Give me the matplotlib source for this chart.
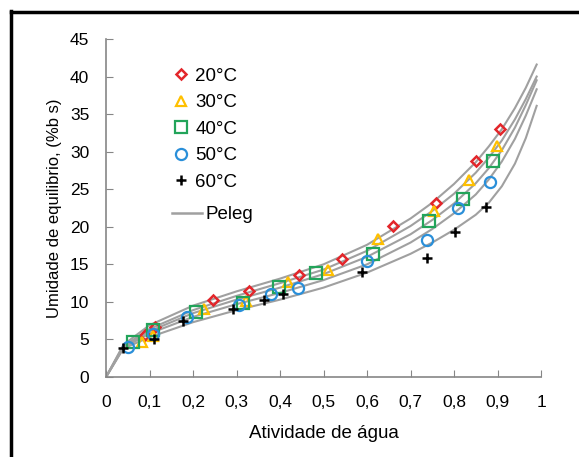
import matplotlib
matplotlib.use("Agg")
import matplotlib.pyplot as plt
from matplotlib.lines import Line2D

plt.rcParams['font.family'] = ['Liberation Sans', 'DejaVu Sans']

# experimental points (aw, equilibrium moisture)
aw_20 = [0.090, 0.113, 0.245, 0.329, 0.444, 0.543, 0.659, 0.759, 0.850, 0.906]
m_20 = [5.6, 6.6, 10.3, 11.4, 13.6, 15.7, 20.1, 23.1, 28.8, 33.0]
aw_30 = [0.082, 0.109, 0.225, 0.322, 0.419, 0.511, 0.626, 0.755, 0.835, 0.898]
m_30 = [4.7, 5.5, 9.1, 10.1, 12.7, 14.3, 18.4, 22.1, 26.2, 30.8]
aw_40 = [0.063, 0.109, 0.207, 0.314, 0.398, 0.483, 0.613, 0.742, 0.820, 0.890]
m_40 = [4.6, 6.3, 8.7, 9.9, 12.0, 13.8, 16.4, 20.8, 23.7, 28.7]
aw_50 = [0.050, 0.107, 0.187, 0.306, 0.379, 0.442, 0.599, 0.739, 0.810, 0.883]
m_50 = [4.0, 5.7, 8.0, 9.6, 11.1, 11.9, 15.4, 18.3, 22.5, 26.0]
aw_60 = [0.038, 0.110, 0.176, 0.291, 0.364, 0.406, 0.589, 0.739, 0.802, 0.874]
m_60 = [3.9, 5.1, 7.4, 9.1, 10.25, 11.1, 14.0, 15.8, 19.35, 22.6]

# Peleg curves
aw_fit = [0, 0.04, 0.1, 0.2, 0.3, 0.4, 0.5, 0.6, 0.7, 0.75, 0.8, 0.85, 0.88, 0.91, 0.94, 0.965, 0.99]
fit_20 = [0, 4.3, 6.9, 9.5, 11.4, 13.1, 15.0, 17.6, 21.1, 23.2, 25.7, 28.6, 30.7, 33.0, 35.8, 38.5, 41.6]
fit_30 = [0, 4.1, 6.4, 8.9, 10.8, 12.5, 14.3, 16.8, 20.1, 22.1, 24.4, 27.2, 29.2, 31.5, 34.3, 37.0, 40.0]
fit_40 = [0, 4.0, 6.1, 8.5, 10.3, 11.9, 13.7, 16.0, 19.0, 20.9, 23.1, 25.8, 27.8, 30.2, 33.2, 36.2, 39.5]
fit_50 = [0, 3.9, 5.8, 8.0, 9.7, 11.2, 12.9, 15.0, 17.9, 19.7, 21.8, 24.3, 26.3, 28.7, 31.7, 34.8, 38.3]
fit_60 = [0, 3.8, 5.3, 7.3, 8.9, 10.3, 11.9, 13.9, 16.4, 17.9, 19.6, 21.6, 23.2, 25.4, 28.4, 31.8, 36.1]

fig = plt.figure(figsize=(5.79, 4.57), dpi=100)
ax = fig.add_axes([0.1831, 0.175, 0.7513, 0.7397])

for f in [fit_20, fit_30, fit_40, fit_50, fit_60]:
    ax.plot(aw_fit, f, color='#a0a0a0', lw=1.5, zorder=1)

h20, = ax.plot(aw_20, m_20, ls='none', marker='D', ms=5, mfc='none', mec='#e3262b', mew=1.8, label='20°C')
h30, = ax.plot(aw_30, m_30, ls='none', marker='^', ms=7, mfc='none', mec='#ffc000', mew=1.6, label='30°C')
h40, = ax.plot(aw_40, m_40, ls='none', marker='s', ms=8, mfc='none', mec='#22a45a', mew=1.6, label='40°C')
h50, = ax.plot(aw_50, m_50, ls='none', marker='o', ms=8, mfc='none', mec='#2a8fd9', mew=1.6, label='50°C')
h60, = ax.plot(aw_60, m_60, ls='none', marker='+', ms=7, mec='black', mew=1.8, label='60°C')
hpel, = ax.plot([], [], color='#a0a0a0', lw=1.8, label='Peleg')

ax.set_xlim(0, 1)
ax.set_ylim(0, 45)
ax.set_xticks([0, 0.1, 0.2, 0.3, 0.4, 0.5, 0.6, 0.7, 0.8, 0.9, 1])
ax.set_xticklabels(['0', '0,1', '0,2', '0,3', '0,4', '0,5', '0,6', '0,7', '0,8', '0,9', '1'])
ax.set_yticks(range(0, 50, 5))
for s in ['top', 'right']:
    ax.spines[s].set_visible(False)
for s in ['left', 'bottom']:
    ax.spines[s].set_color('#868686')
    ax.spines[s].set_linewidth(1.2)
ax.tick_params(direction='in', length=5, color='#868686', labelsize=12.5)
ax.tick_params(axis='x', pad=13)
ax.tick_params(axis='y', pad=12)
ax.set_xlabel('Atividade de água', fontsize=13.5, labelpad=11)
ax.set_ylabel('Umidade de equilibrio, (%b s)', fontsize=12, labelpad=6)

leg1 = ax.legend(handles=[h20, h30, h40, h50, h60], loc='upper left', bbox_to_anchor=(0.113, 0.965),
                 frameon=False, fontsize=13.5, handlelength=1.0, handletextpad=0.25, labelspacing=0.5)
ax.add_artist(leg1)
ax.legend(handles=[hpel], loc='upper left', bbox_to_anchor=(0.114, 0.556), frameon=False,
          fontsize=13.5, handlelength=1.55, handletextpad=0.2)

# black frame on left and top edges of the image
fig.add_artist(Line2D([0.019, 0.019], [0, 0.975], transform=fig.transFigure, color='black', lw=2.5))
fig.add_artist(Line2D([0.019, 1], [0.973, 0.973], transform=fig.transFigure, color='black', lw=2.5))

fig.savefig('out.png', dpi=100)
